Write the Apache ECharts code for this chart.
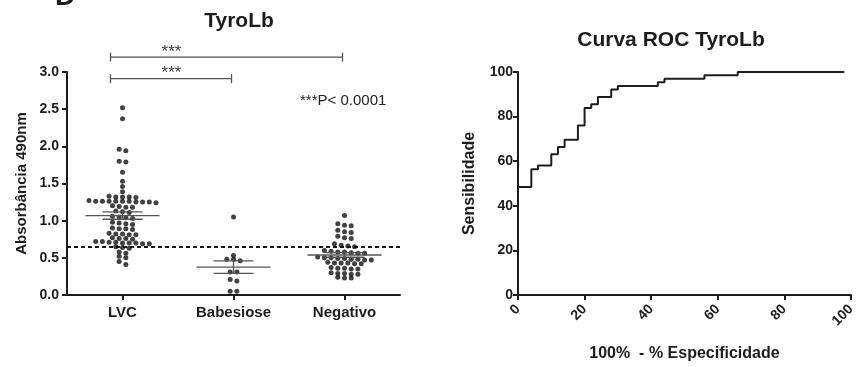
<!DOCTYPE html>
<html><head><meta charset="utf-8">
<script src="https://cdn.jsdelivr.net/npm/echarts/dist/echarts.min.js"></script>
<style>html,body{margin:0;padding:0;background:#fff}#c{width:858px;height:367px}</style>
</head><body><div id="c"></div>
<script>
// ---------- data ----------
const categories = ['LVC', 'Babesiose', 'Negativo'];
const lvc = [2.52, 2.37, 1.96, 1.94, 1.80, 1.79, 1.65, 1.53, 1.46, 1.39,
  1.33, 1.32, 1.32, 1.32, 1.31,
  1.27, 1.26, 1.26, 1.26, 1.26, 1.26, 1.26, 1.25, 1.25, 1.25, 1.24,
  1.20, 1.19, 1.18, 1.18,
  1.13, 1.12, 1.11,
  1.06, 1.05, 1.04, 1.03,
  0.98, 0.97, 0.96, 0.95,
  0.90, 0.89, 0.89, 0.88,
  0.83, 0.82, 0.82, 0.81, 0.81,
  0.77, 0.76, 0.76, 0.75,
  0.72, 0.72, 0.71, 0.71, 0.70, 0.70, 0.70, 0.69, 0.69,
  0.65, 0.64, 0.63,
  0.58, 0.56,
  0.52, 0.50,
  0.45, 0.41];
const babesiose = [1.05, 0.53, 0.48, 0.48, 0.46, 0.31, 0.31, 0.21, 0.19, 0.05, 0.05];
const negativo = [1.07,
  0.96, 0.94, 0.93,
  0.87, 0.85, 0.84,
  0.79, 0.77, 0.76,
  0.69, 0.67, 0.66, 0.65,
  0.60, 0.59, 0.58, 0.58, 0.57, 0.56, 0.56,
  0.51, 0.50, 0.50, 0.49, 0.49, 0.48, 0.48, 0.47, 0.47,
  0.44, 0.43, 0.43, 0.43, 0.42, 0.42,
  0.37, 0.36, 0.36, 0.35, 0.35,
  0.30, 0.29, 0.29, 0.28, 0.28,
  0.24, 0.23, 0.23];
const cutoff = 0.65;
const yLeftTicks = { min: 0, max: 3, interval: 0.5 };
const significance = [ // [from category, to category, height]
  [0, 2, 3.20],
  [0, 1, 2.91]
];
const pText = '***P< 0.0001';

// ROC curve (100% - specificity, sensitivity)
const rocFpr  = [0, 4, 6, 10, 12, 14, 18, 20, 22, 24, 28, 30, 42, 44, 56, 66, 98];
const rocSens = [48.4, 56.4, 58.1, 63.1, 66.4, 69.6, 76.0, 83.9, 85.5, 88.8, 92.2, 93.7, 95.4, 97.0, 98.5, 100, 100];
const rocTicks = { min: 0, max: 100, interval: 20 };

// ---------- helpers ----------
const FONT = '"Liberation Sans", Arial, Helvetica, sans-serif';
const INK = '#1c1c1c';
const DOT_STEP = 6.7; // px between dots in a row

function swarm(values, ci) {
  const sorted = values.slice().sort((a, b) => b - a);
  const rows = [];
  let cur = null;
  sorted.forEach(v => {
    if (!cur || cur.start - v > 0.045) { cur = { start: v, vals: [] }; rows.push(cur); }
    cur.vals.push(v);
  });
  const out = [];
  rows.forEach(r => {
    const n = r.vals.length;
    r.vals.forEach((v, k) => {
      out.push({ value: [ci, v], symbolOffset: [(k - (n - 1) / 2) * DOT_STEP, 0] });
    });
  });
  return out;
}
function meanSem(arr) {
  const n = arr.length;
  const m = arr.reduce((a, b) => a + b, 0) / n;
  const sd = Math.sqrt(arr.reduce((a, b) => a + (b - m) * (b - m), 0) / (n - 1));
  return [m, sd / Math.sqrt(n)];
}
const groups = [lvc, babesiose, negativo];
const stats = groups.map((g, i) => [i].concat(meanSem(g)));
const rocData = rocFpr.map((x, i) => [x, rocSens[i]]);

const axisLine = { show: true, lineStyle: { color: INK, width: 2 } };
const axisTick = { show: true, length: 5, lineStyle: { color: INK, width: 2 } };
const lab = (size) => ({ color: INK, fontFamily: FONT, fontWeight: 'bold', fontSize: size });

const chart = echarts.init(document.getElementById('c'), null, { renderer: 'canvas' });
chart.setOption({
  animation: false,
  backgroundColor: '#fff',
  title: [
    { text: 'TyroLb', left: 234, top: 6, textAlign: 'center',
      textStyle: { color: INK, fontFamily: FONT, fontWeight: 'bold', fontSize: 21 } },
    { text: 'Curva ROC TyroLb', left: 666, top: 25, textAlign: 'center',
      textStyle: { color: INK, fontFamily: FONT, fontWeight: 'bold', fontSize: 21 } }
  ],
  graphic: [
    { type: 'text', left: 55, top: -17, style: { text: 'D', font: 'bold 28px ' + FONT, fill: INK } },
    { type: 'text', left: 300, top: 93, style: { text: pText, font: '15px ' + FONT, fill: '#222' } }
  ],
  grid: [
    { left: 67, top: 72, width: 333, height: 223 },
    { left: 518, top: 72, width: 333, height: 223 }
  ],
  xAxis: [
    { gridIndex: 0, type: 'category', data: categories, boundaryGap: true,
      axisLine, axisTick: Object.assign({ alignWithLabel: true }, axisTick),
      axisLabel: Object.assign({ margin: 10 }, lab(15)), splitLine: { show: false } },
    { gridIndex: 1, type: 'value', min: rocTicks.min, max: rocTicks.max, interval: rocTicks.interval,
      axisLine, axisTick, splitLine: { show: false },
      axisLabel: Object.assign({ rotate: 45, margin: 12 }, lab(14)),
      name: '100%  - % Especificidade', nameLocation: 'middle', nameGap: 51,
      nameTextStyle: lab(16) }
  ],
  yAxis: [
    { gridIndex: 0, type: 'value', min: yLeftTicks.min, max: yLeftTicks.max, interval: yLeftTicks.interval,
      axisLine, axisTick, splitLine: { show: false },
      axisLabel: Object.assign({ margin: 8, formatter: v => v.toFixed(1) }, lab(14)),
      name: 'Absorbância 490nm', nameLocation: 'middle', nameGap: 38, nameTextStyle: lab(15) },
    { gridIndex: 1, type: 'value', min: rocTicks.min, max: rocTicks.max, interval: rocTicks.interval,
      axisLine, axisTick, splitLine: { show: false },
      axisLabel: Object.assign({ margin: 5 }, lab(14)),
      name: 'Sensibilidade', nameLocation: 'middle', nameGap: 40, nameTextStyle: lab(16) }
  ],
  series: [
    { type: 'scatter', xAxisIndex: 0, yAxisIndex: 0, symbol: 'circle', symbolSize: 5,
      itemStyle: { color: '#111' }, z: 3,
      data: [].concat(swarm(lvc, 0), swarm(babesiose, 1), swarm(negativo, 2)),
      markLine: { silent: true, symbol: 'none', label: { show: false },
        lineStyle: { type: [4, 3], color: '#111', width: 2 },
        data: [{ yAxis: cutoff }] } },
    { type: 'custom', xAxisIndex: 0, yAxisIndex: 0, z: 5, data: stats,
      renderItem: function (params, api) {
        const i = api.value(0), m = api.value(1), s = api.value(2);
        const c = api.coord([i, m]), hi = api.coord([i, m + s]), lo = api.coord([i, m - s]);
        const st = { stroke: '#555', lineWidth: 1.3 };
        return { type: 'group', children: [
          { type: 'line', shape: { x1: c[0] - 37, y1: c[1], x2: c[0] + 37, y2: c[1] }, style: st },
          { type: 'line', shape: { x1: c[0] - 20, y1: hi[1], x2: c[0] + 20, y2: hi[1] }, style: st },
          { type: 'line', shape: { x1: c[0] - 20, y1: lo[1], x2: c[0] + 20, y2: lo[1] }, style: st },
          { type: 'line', shape: { x1: c[0], y1: hi[1], x2: c[0], y2: lo[1] }, style: st }
        ] };
      } },
    { type: 'custom', xAxisIndex: 0, yAxisIndex: 0, z: 5, clip: false, data: significance,
      encode: { x: [0, 1], y: 2 },
      renderItem: function (params, api) {
        const a = api.coord([api.value(0), api.value(2)]);
        const b = api.coord([api.value(1), api.value(2)]);
        const x1 = a[0] - 12, x2 = b[0] - 2, y = a[1];
        const st = { stroke: '#555', lineWidth: 1.3 };
        return { type: 'group', children: [
          { type: 'line', shape: { x1: x1, y1: y, x2: x2, y2: y }, style: st },
          { type: 'line', shape: { x1: x1, y1: y - 4.5, x2: x1, y2: y + 4.5 }, style: st },
          { type: 'line', shape: { x1: x2, y1: y - 4.5, x2: x2, y2: y + 4.5 }, style: st },
          { type: 'text', style: { text: '***', x: x1 + 61, y: y - 5, align: 'center', verticalAlign: 'middle',
            fontSize: 17, fontFamily: 'Liberation Sans, Arial, sans-serif', fill: '#444' } }
        ] };
      } },
    { type: 'line', xAxisIndex: 1, yAxisIndex: 1, data: rocData, step: 'end', showSymbol: false,
      lineStyle: { color: INK, width: 2 } }
  ]
});
</script>
</body></html>
